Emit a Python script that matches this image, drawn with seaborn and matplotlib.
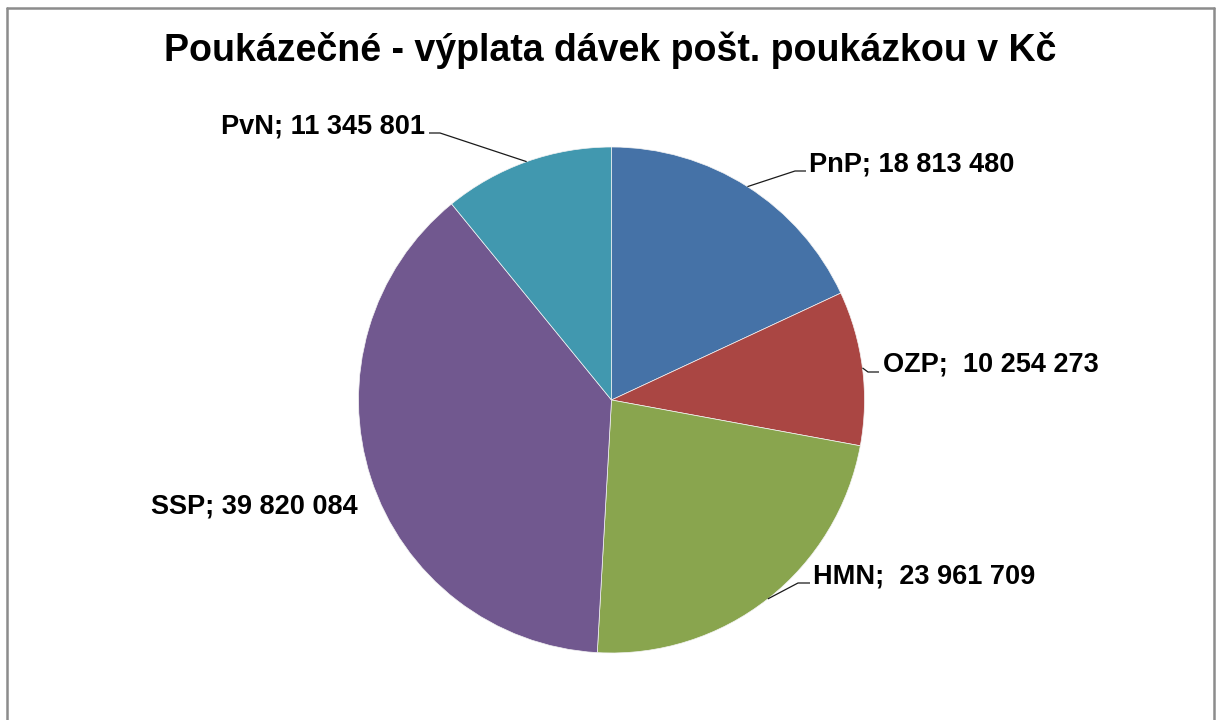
import matplotlib
matplotlib.use("Agg")
import matplotlib.pyplot as plt
import seaborn as sns
import numpy as np
from matplotlib.lines import Line2D

# ---- data ----
categories = ["PnP", "OZP", "HMN", "SSP", "PvN"]
values = [18813480, 10254273, 23961709, 39820084, 11345801]
label_texts = ["PnP; 18 813 480", "OZP;  10 254 273", "HMN;  23 961 709",
               "SSP; 39 820 084", "PvN; 11 345 801"]
colors = ["#4572A7", "#AA4643", "#89A54E", "#71588F", "#4198AF"]
title = "Poukázečné - výplata dávek pošt. poukázkou v Kč"

sns.set_theme(style="white")
plt.rcParams["font.family"] = ["Liberation Sans", "DejaVu Sans"]

W, H = 1222, 720
fig = plt.figure(figsize=(W / 100, H / 100), dpi=100)
fig.patch.set_facecolor("white")
ax = fig.add_axes([0, 0, 1, 1])

def Y(y):
    return H - y

cx, cy, R = 611.5, Y(400), 253
palette = sns.color_palette(colors)
wedges, _ = ax.pie(values, colors=palette, startangle=90, counterclock=False,
                   center=(cx, cy), radius=R,
                   wedgeprops=dict(linewidth=0.5, edgecolor="#f4f4f4"))
ax.set_xlim(0, W)
ax.set_ylim(0, H)
ax.set_aspect("equal")
ax.axis("off")

# label layout (pixel positions, top-down y): text anchor, alignment, elbow points
layout = {
    "PnP": dict(x=809, base=172, ha="left", elbow=[(795, 171), (806, 171)]),
    "OZP": dict(x=883, base=372, ha="left", elbow=[(868, 372), (879, 372)]),
    "HMN": dict(x=813, base=584, ha="left", elbow=[(798, 583), (810, 583)]),
    "SSP": dict(x=151, base=513, ha="left", elbow=None),
    "PvN": dict(x=425, base=134, ha="right", elbow=[(440, 133), (429, 133)]),
}

for w, cat, txt in zip(wedges, categories, label_texts):
    L = layout[cat]
    ax.text(L["x"], Y(L["base"]), txt, ha=L["ha"], va="baseline",
            fontsize=19.5, fontweight="bold", color="black")
    if L["elbow"]:
        mid = np.deg2rad((w.theta1 + w.theta2) / 2)
        ex, ey = cx + R * np.cos(mid), cy + R * np.sin(mid)
        xs = [ex] + [p[0] for p in L["elbow"]]
        ys = [ey] + [Y(p[1]) for p in L["elbow"]]
        ax.plot(xs, ys, color="#1a1a1a", lw=0.9, solid_capstyle="butt")

ax.text(610, Y(61), title, ha="center", va="baseline",
        fontsize=27, fontweight="bold", color="black")

# chart border (bottom edge lies outside the image)
bc = "#8c8c8c"
fig.add_artist(Line2D([7 / W, 7 / W], [0, 1 - 8 / H], transform=fig.transFigure, color=bc, lw=1.8))
fig.add_artist(Line2D([7 / W, 1214 / W], [1 - 8 / H, 1 - 8 / H], transform=fig.transFigure, color=bc, lw=1.8))
fig.add_artist(Line2D([1214 / W, 1214 / W], [0, 1 - 8 / H], transform=fig.transFigure, color=bc, lw=1.8))

fig.savefig("out.png", dpi=100, facecolor="white")
